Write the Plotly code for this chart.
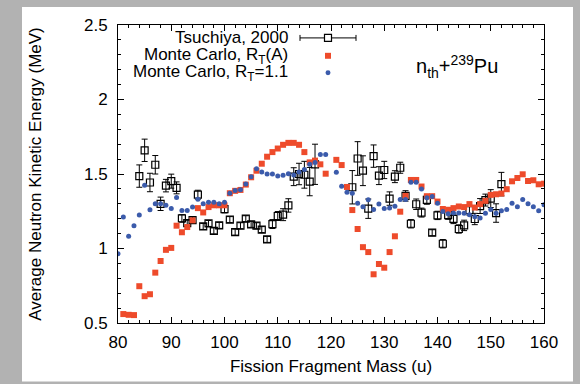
import plotly.graph_objects as go

# ---------------- data ----------------
ts_mass = list(range(84, 118)) + list(range(124, 153))
ts_val = [1.486, 1.659, 1.443, 1.562, 1.30, 1.422, 1.452, 1.407, 1.202, 1.17,
          1.191, 1.361, 1.148, 1.168, 1.118, 1.155, 1.264, 1.194, 1.11, 1.153,
          1.20, 1.162, 1.153, 1.127, 1.061, 1.164, 1.218, 1.227, 1.289, 1.482,
          1.50, 1.495, 1.449, 1.565,
          1.411, 1.604, 1.522, 1.267, 1.62, 1.489, 1.527, 1.335, 1.482, 1.542,
          1.353, 1.166, 1.297, 1.241, 1.327, 1.106, 1.222, 1.032, 1.224, 1.199,
          1.131, 1.155, 1.257, 1.198, 1.285, 1.325, 1.335, 1.238, 1.432]
ts_err = [0.075, 0.075, 0.062, 0.062, 0.045, 0.042, 0.047, 0.04, 0.025, 0.02,
          0.02, 0.03, 0.02, 0.02, 0.02, 0.02, 0.025, 0.02, 0.02, 0.02,
          0.02, 0.02, 0.02, 0.02, 0.02, 0.03, 0.03, 0.04, 0.045, 0.06,
          0.072, 0.09, 0.095, 0.135,
          0.112, 0.113, 0.10, 0.065, 0.075, 0.06, 0.058, 0.045, 0.04, 0.037,
          0.035, 0.028, 0.035, 0.03, 0.03, 0.02, 0.028, 0.028, 0.028, 0.032,
          0.028, 0.035, 0.033, 0.038, 0.05, 0.04, 0.06, 0.062, 0.079]

rta_mass = list(range(81, 120)) + list(range(121, 161))
rta_val = [0.56, 0.555, 0.553, 0.747, 0.68, 0.693, 0.838, 0.916, 0.991, 1.004,
           1.153, 1.109, 1.144, 1.189, 1.271, 1.242, 1.278, 1.29, 1.29, 1.29,
           1.371, 1.387, 1.393, 1.429, 1.478, 1.522, 1.569, 1.616, 1.647, 1.671,
           1.696, 1.709, 1.709, 1.696, 1.647, 1.578, 1.59, 1.565, 1.502,
           1.595, 1.56, 1.413, 1.258, 1.131, 1.009, 0.976, 0.827, 0.896, 0.871,
           0.976, 1.082, 1.247, 1.353, 1.46, 1.46, 1.416, 1.351, 1.351, 1.315,
           1.265, 1.26, 1.271, 1.282, 1.278, 1.298, 1.275, 1.298, 1.32, 1.36,
           1.364, 1.369, 1.398, 1.451, 1.473, 1.498, 1.453, 1.458, 1.431, 1.435]

rt11_mass = list(range(80, 120)) + list(range(121, 161))
rt11_val = [0.965, 1.211, 1.082, 1.153, 1.225, 1.425, 1.26, 1.30, 1.30, 1.29,
            1.269, 1.342, 1.255, 1.255, 1.278, 1.331, 1.30, 1.311, 1.311, 1.30,
            1.31, 1.37, 1.39, 1.395, 1.433, 1.482, 1.535, 1.513, 1.50, 1.50,
            1.487, 1.491, 1.502, 1.493, 1.513, 1.531, 1.565, 1.578, 1.631, 1.631,
            1.511, 1.418, 1.378, 1.371, 1.304, 1.28, 1.327, 1.262, 1.298, 1.269,
            1.271, 1.284, 1.329, 1.329, 1.444, 1.444, 1.40, 1.34, 1.349, 1.304,
            1.249, 1.233, 1.238, 1.238, 1.236, 1.227, 1.213, 1.204, 1.236, 1.262,
            1.236, 1.253, 1.262, 1.304, 1.28, 1.329, 1.30, 1.28, 1.253, 1.293]

legend_labels = ["Tsuchiya, 2000", "Monte Carlo, R<sub>T</sub>(A)",
                 "Monte Carlo, R<sub>T</sub>=1.1"]
reaction_label = "n<sub>th</sub>+<sup>239</sup>Pu"

RED = "#ee4b2b"
BLUE = "#3b5bab"
FONT = "Liberation Sans, Arial, Helvetica, sans-serif"

# ---------------- geometry ----------------
W, H = 580, 384
ML, MR, MT, MB = 118, 36, 25, 59
PW, PH = W - ML - MR, H - MT - MB


def px(x):
    return (x - ML) / PW


def py(y):
    return (H - MB - y) / PH


fig = go.Figure()

fig.add_trace(go.Scatter(
    x=ts_mass, y=ts_val, mode="markers", name=legend_labels[0],
    error_y=dict(type="data", array=ts_err, visible=True, color="black",
                 thickness=1, width=3),
    marker=dict(symbol="square-open", size=7, color="black",
                line=dict(width=1.2, color="black")),
    showlegend=False))

fig.add_trace(go.Scatter(
    x=rta_mass, y=rta_val, mode="markers", name="rta",
    marker=dict(symbol="square", size=6, color=RED, line=dict(width=0)),
    showlegend=False))

fig.add_trace(go.Scatter(
    x=rt11_mass, y=rt11_val, mode="markers", name="rt11",
    marker=dict(symbol="circle", size=5, color=BLUE, line=dict(width=0)),
    showlegend=False))

shapes = []
# white panel on gray background
shapes.append(dict(type="rect", xref="paper", yref="paper",
                   x0=px(22), x1=px(573), y0=py(384), y1=py(7),
                   fillcolor="white", line=dict(width=0), layer="below"))

# custom legend samples
ly = [38, 56, 73]
shapes.append(dict(type="line", xref="paper", yref="paper",
                   x0=px(300), x1=px(356), y0=py(ly[0]), y1=py(ly[0]),
                   line=dict(color="black", width=1)))
for xc in (300, 356):
    shapes.append(dict(type="line", xref="paper", yref="paper",
                       x0=px(xc), x1=px(xc), y0=py(ly[0] - 3), y1=py(ly[0] + 3),
                       line=dict(color="black", width=1)))
shapes.append(dict(type="rect", xref="paper", yref="paper",
                   x0=px(324.5), x1=px(331.5), y0=py(ly[0] + 3.5), y1=py(ly[0] - 3.5),
                   fillcolor="white", line=dict(color="black", width=1.2)))
shapes.append(dict(type="rect", xref="paper", yref="paper",
                   x0=px(325), x1=px(331), y0=py(ly[1] + 3), y1=py(ly[1] - 3),
                   fillcolor=RED, line=dict(width=0)))
shapes.append(dict(type="circle", xref="paper", yref="paper",
                   x0=px(325.5), x1=px(330.5), y0=py(ly[2] + 2.5), y1=py(ly[2] - 2.5),
                   fillcolor=BLUE, line=dict(width=0)))

annotations = []
for lab, yy in zip(legend_labels, ly):
    annotations.append(dict(text=lab, xref="paper", yref="paper",
                            x=px(290), y=py(yy), xanchor="right", yanchor="middle",
                            showarrow=False, font=dict(size=17, color="black", family=FONT)))
annotations.append(dict(text=reaction_label, xref="paper", yref="paper",
                        x=px(457), y=py(67), xanchor="center", yanchor="middle",
                        showarrow=False, font=dict(size=20, color="black", family=FONT)))

axis_common = dict(showline=True, linecolor="black", linewidth=1, mirror="ticks",
                   ticks="inside", ticklen=6, tickwidth=1, tickcolor="black",
                   showgrid=False, zeroline=False,
                   tickfont=dict(size=17, color="black", family=FONT))

fig.update_xaxes(range=[80, 160], dtick=10, tick0=80, ticklabelstandoff=4,
                 minor=dict(ticks="inside", ticklen=3, dtick=2, tickcolor="black",
                            showgrid=False),
                 title=dict(text="Fission Fragment Mass (u)", standoff=8,
                            font=dict(size=17, color="black", family=FONT)),
                 **axis_common)
fig.update_yaxes(range=[0.5, 2.5], dtick=0.5, tick0=0.5, tickformat=".1~f",
                 ticklabelstandoff=6,
                 minor=dict(ticks="inside", ticklen=3, dtick=0.1, tickcolor="black",
                            showgrid=False),
                 title=dict(text="Average Neutron Kinetic Energy (MeV)", standoff=38,
                            font=dict(size=17, color="black", family=FONT)),
                 **axis_common)

fig.update_layout(width=W, height=H,
                  margin=dict(l=ML, r=MR, t=MT, b=MB, pad=0),
                  paper_bgcolor="#b2b2b2", plot_bgcolor="rgba(0,0,0,0)",
                  shapes=shapes, annotations=annotations, showlegend=False,
                  font=dict(family=FONT, color="black"))

fig.write_html("out.html")
